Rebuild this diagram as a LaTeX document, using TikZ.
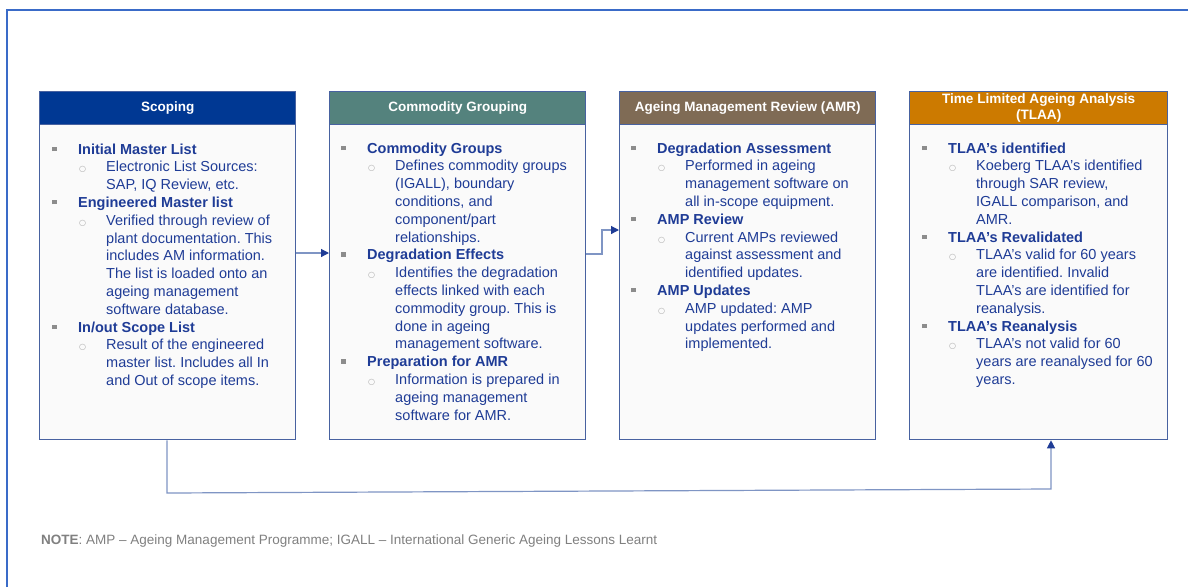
\documentclass[tikz,border=0pt]{standalone}
\usepackage{fontspec}
\setmainfont{Liberation Sans}
\newfontfamily\symf{DejaVu Sans}
\usetikzlibrary{arrows.meta}
\frenchspacing
\definecolor{frameblue}{HTML}{3A6BC8}
\definecolor{bordblue}{HTML}{4862A0}
\definecolor{scopeblue}{HTML}{003893}
\definecolor{commteal}{HTML}{54827D}
\definecolor{amrbrown}{HTML}{7F6B55}
\definecolor{tlaaorange}{HTML}{CC7A00}
\definecolor{textblue}{HTML}{1F3C96}
\definecolor{bulgray}{HTML}{8C8C8C}
\definecolor{circgray}{HTML}{A8A8A8}
\definecolor{notegray}{HTML}{808080}
\definecolor{connline}{HTML}{7F95C4}
\definecolor{tipblue}{HTML}{1F3C96}
\definecolor{bodyfill}{HTML}{FAFAFA}
\newcommand\hd[1]{\par\noindent\makebox[26pt][l]{\textcolor{bulgray}{\rule[3pt]{4.5pt}{4.5pt}}}\textbf{#1}\par}
\newcommand\sd[1]{\par{\leftskip=54pt\noindent\llap{\makebox[27pt][l]{\textcolor{circgray}{\symf\fontsize{8}{8}\selectfont ○}}}#1\par}}
\tikzset{
  panel/.style={draw=bordblue, line width=1.3pt, fill=bodyfill, inner sep=0pt, minimum width=256pt, minimum height=348pt, anchor=north west},
  hdr/.style={draw=bordblue, line width=1.3pt, text=white, inner sep=0pt, minimum width=256pt, minimum height=33pt, anchor=north west, font=\bfseries\fontsize{13.5}{16}\selectfont, align=center},
  bodytext/.style={anchor=base west, inner sep=0pt, text=textblue, font=\fontsize{14.5}{17.8}\selectfont},
  conn/.style={draw=connline, line width=1.2pt, -{Triangle[length=8pt,width=8pt,color=tipblue]}}
}
\begin{document}
\begin{tikzpicture}[x=1pt,y=-1pt]
\useasboundingbox (0,0) rectangle (1188,587);
\fill[white] (0,0) rectangle (1188,587);
\draw[frameblue, line width=1.5pt] (7,587) -- (7,10) -- (1188,10);

% panels
\node[panel] (p1) at (39,91) {};
\node[panel] (p2) at (329,91) {};
\node[panel] (p3) at (619,91) {};
\node[panel, minimum width=258pt] (p4) at (909,91) {};

% headers
\node[hdr, fill=scopeblue] (h1) at (39,91) {Scoping};
\node[hdr, fill=commteal] (h2) at (329,91) {Commodity Grouping};
\node[hdr, fill=amrbrown] (h3) at (619,91) {Ageing Management Review (AMR)};
\node[hdr, fill=tlaaorange, minimum width=258pt, font=\bfseries\fontsize{13.6}{15.5}\selectfont] (h4) at (909,91) {Time Limited Ageing Analysis\\(TLAA)};

% body texts
\node[bodytext] (t1) at (52,154) {\begin{minipage}[t]{236pt}\raggedright
\hd{Initial Master List}
\sd{Electronic List Sources:\\SAP, IQ Review, etc.}
\hd{Engineered Master list}
\sd{Verified through review of\\plant documentation. This\\includes AM information.\\The list is loaded onto an\\ageing management\\software database.}
\hd{In/out Scope List}
\sd{Result of the engineered\\master list. Includes all In\\and Out of scope items.}
\end{minipage}};

\node[bodytext] (t2) at (341,153) {\begin{minipage}[t]{236pt}\raggedright
\hd{Commodity Groups}
\sd{Defines commodity groups\\(IGALL), boundary\\conditions, and\\component/part\\relationships.}
\hd{Degradation Effects}
\sd{Identifies the degradation\\effects linked with each\\commodity group. This is\\done in ageing\\management software.}
\hd{Preparation for AMR}
\sd{Information is prepared in\\ageing management\\software for AMR.}
\end{minipage}};

\node[bodytext] (t3) at (631,153) {\begin{minipage}[t]{236pt}\raggedright
\hd{Degradation Assessment}
\sd{Performed in ageing\\management software on\\all in-scope equipment.}
\hd{AMP Review}
\sd{Current AMPs reviewed\\against assessment and\\identified updates.}
\hd{AMP Updates}
\sd{AMP updated: AMP\\updates performed and\\implemented.}
\end{minipage}};

\node[bodytext] (t4) at (922,153) {\begin{minipage}[t]{238pt}\raggedright
\hd{TLAA’s identified}
\sd{Koeberg TLAA’s identified\\through SAR review,\\IGALL comparison, and\\AMR.}
\hd{TLAA’s Revalidated}
\sd{TLAA’s valid for 60 years\\are identified. Invalid\\TLAA’s are identified for\\reanalysis.}
\hd{TLAA’s Reanalysis}
\sd{TLAA’s not valid for 60\\years are reanalysed for 60\\years.}
\end{minipage}};

% connectors
\coordinate (a1) at (312,253);
\draw[conn] (p1.east |- a1) -- (p2.west |- a1);
\coordinate (a2) at (602,254);
\coordinate (a3) at (602,230);
\draw[conn] (p2.east |- a2) -- (a2) -- (a3) -- (p3.west |- a3);
\coordinate (b1) at (167,493);
\coordinate (b2) at (1051,489);
\draw[conn] (p1.south -| b1) -- (b1) -- (b2) -- (p4.south -| b2);

% note
\node[anchor=base west, inner sep=0pt, text=notegray, font=\fontsize{13.5}{16}\selectfont] (note) at (41,544) {\textbf{NOTE}: AMP – Ageing Management Programme; IGALL – International Generic Ageing Lessons Learnt};
\end{tikzpicture}
\end{document}
